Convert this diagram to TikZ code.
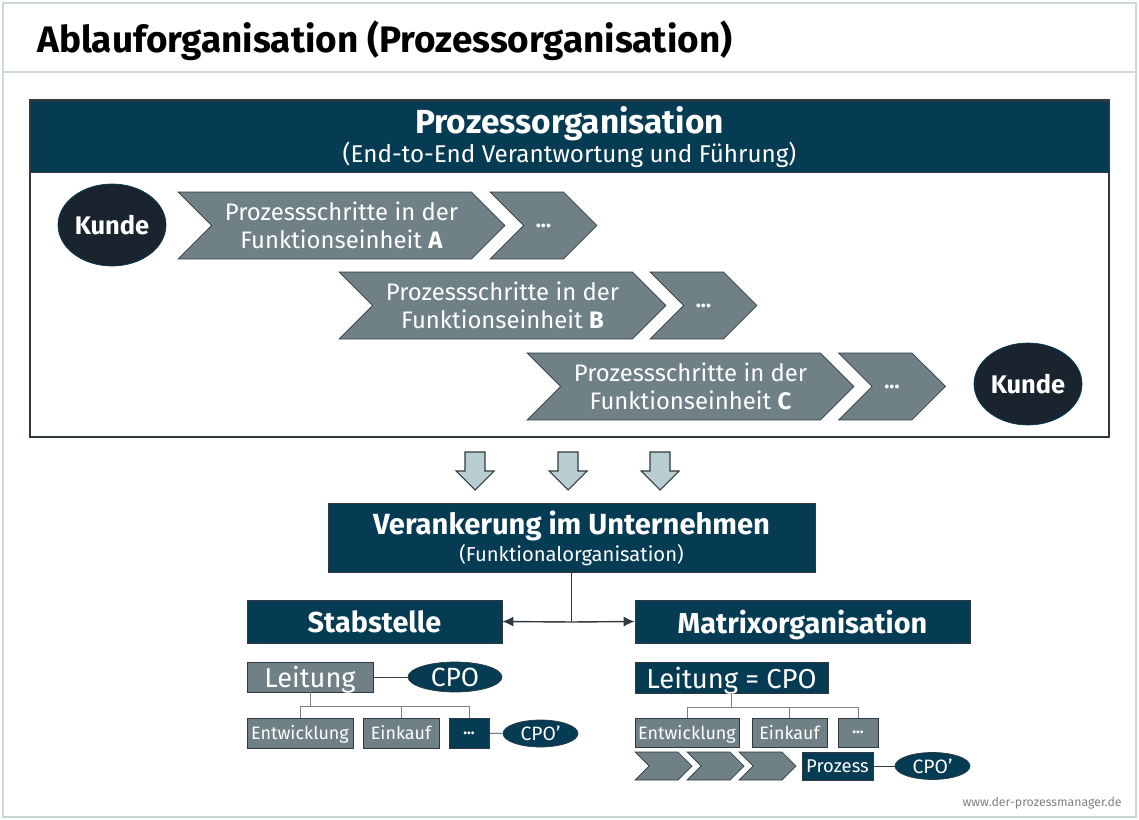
\documentclass[tikz,border=0pt]{standalone}
\usepackage{fontspec}
\setmainfont{Fira Sans}
\usepackage{xcolor}
\usetikzlibrary{positioning,shapes.geometric,shapes.symbols,arrows.meta}

\definecolor{nachtblau}{HTML}{053B53}
\definecolor{tinte}{HTML}{19242E}
\definecolor{stahlgrau}{HTML}{6F8087}
\definecolor{schiefer}{HTML}{2E3A40}
\definecolor{eisblau}{HTML}{B7CDD1}
\definecolor{rahmenfarbe}{HTML}{C9D9DB}

\begin{document}
\begin{tikzpicture}[
  x=0.02cm, y=-0.02cm,
  rahmen/.style  = {draw=rahmenfarbe, line width=1.2pt},
  kasten/.style  = {draw=schiefer, fill=nachtblau, text=white, inner sep=0pt, align=center},
  feld/.style    = {draw=schiefer, fill=stahlgrau, text=white, inner sep=0pt, align=center},
  zeile/.style   = {text depth=0pt},
  schritt/.style = {signal, signal from=west, signal to=east, signal pointer angle=90,
                    draw=schiefer, fill=stahlgrau, text=white, inner sep=0pt, align=center},
  kunde/.style   = {ellipse, draw=nachtblau, fill=tinte, text=white, inner sep=0pt,
                    minimum width=2.16cm, minimum height=1.64cm,
                    font=\fontsize{14.5}{17}\selectfont\bfseries},
  rolle/.style   = {ellipse, draw=schiefer, fill=nachtblau, text=white, inner sep=0pt, zeile},
  fleche/.style  = {-{Latex[length=2.2mm,width=2mm]}, thick, draw=schiefer},
  ast/.style     = {draw=gray, line width=0.5pt},
  blockpfeil/.style = {draw=schiefer, fill=eisblau, line width=0.6pt}
]
\useasboundingbox (0,0) rectangle (1139,820);
\draw[rahmen] (3,3) rectangle (1136,817);
\draw[rahmen] (3,72) -- (1136,72);
\node[anchor=base west, inner sep=0pt, font=\fontsize{21}{24}\selectfont\bfseries] (titel) at (37,53)
  {Ablauforganisation (Prozessorganisation)};

% Prozessorganisation
\draw[draw=schiefer, line width=0.8pt] (30,100) rectangle (1109,437);
\node[kasten, minimum width=21.58cm, minimum height=1.42cm] (kopf) at (569.5,137)
  {{\fontsize{19}{22}\selectfont\bfseries Prozessorganisation}\\[0pt]
   {\fontsize{13.8}{16}\selectfont (End-to-End Verantwortung und Führung)}};

\node[kunde] (kundeA) at (112,225) {Kunde};
\node[kunde] (kundeC) at (1028,384) {Kunde};

\tikzset{gross/.style={schritt, minimum width=6.54cm, minimum height=1.34cm,
                       font=\fontsize{13.6}{16}\selectfont},
         rest/.style={schritt, minimum width=2.14cm, minimum height=1.34cm,
                      font=\fontsize{12}{14}\selectfont\bfseries}}
\node[gross] (schrittA) at (341.5,225.5) {Prozessschritte in der\\Funktionseinheit \textbf{A}};
\node[rest]  (restA)    at (543.5,225.5) {...};
\node[gross] (schrittB) at (502.5,305.5) {Prozessschritte in der\\Funktionseinheit \textbf{B}};
\node[rest]  (restB)    at (703.5,305.5) {...};
\node[gross] (schrittC) at (690.5,386.5) {Prozessschritte in der\\Funktionseinheit \textbf{C}};
\node[rest]  (restC)    at (892,386.5)   {...};

% Pfeile nach unten
\foreach \x in {475,568,660}
  \draw[blockpfeil] (\x-10,452) -- (\x+10,452) -- (\x+10,471) -- (\x+19,471)
                    -- (\x,490) -- (\x-19,471) -- (\x-10,471) -- cycle;

% Verankerung
\node[kasten, minimum width=9.74cm, minimum height=1.38cm] (verank) at (571.5,538)
  {{\fontsize{16.6}{19}\selectfont\bfseries Verankerung im Unternehmen}\\[1pt]
   {\fontsize{11.5}{13}\selectfont (Funktionalorganisation)}};
\node[kasten, zeile, minimum width=5.1cm, minimum height=0.86cm,
      font=\fontsize{16.4}{18}\selectfont\bfseries] (stab) at (374.5,621.5) {Stabstelle};
\node[kasten, zeile, minimum width=6.7cm, minimum height=0.86cm,
      font=\fontsize{16.4}{18}\selectfont\bfseries] (matrix) at (802.5,621.5) {Matrixorganisation};
\coordinate (knoten) at (571.5,622);
\draw[schiefer, thick] (verank.south) -- (knoten);
\draw[fleche] (knoten) -- (stab.east);
\draw[fleche] (knoten) -- (matrix.west);

% Stabstelle
\node[feld, zeile, minimum width=2.52cm, minimum height=0.6cm,
      font=\fontsize{15.5}{18}\selectfont] (leitL) at (310,677) {Leitung};
\node[rolle, minimum width=1.88cm, minimum height=0.6cm,
      font=\fontsize{15}{18}\selectfont] (cpoL) at (455,677) {CPO};
\node[feld, zeile, minimum width=2.12cm, minimum height=0.6cm,
      font=\fontsize{10.2}{12}\selectfont] (entwL) at (300,733) {Entwicklung};
\node[feld, zeile, minimum width=1.52cm, minimum height=0.6cm,
      font=\fontsize{10.2}{12}\selectfont] (einkL) at (401,733) {Einkauf};
\node[kasten, zeile, minimum width=0.8cm, minimum height=0.6cm,
      font=\fontsize{9}{11}\selectfont\bfseries] (mehrL) at (469,733) {...};
\node[rolle, minimum width=1.5cm, minimum height=0.54cm,
      font=\fontsize{11}{13}\selectfont] (cpoL2) at (540.5,733.5) {CPO’};
\draw[schiefer] (leitL) -- (cpoL);
\draw[schiefer] (mehrL) -- (cpoL2);
\coordinate (astL) at (310,706);
\draw[ast] (leitL.south) -- (astL);
\foreach \k in {entwL,einkL,mehrL}
  \draw[ast] (astL) -| (\k.north);

% Matrixorganisation
\node[kasten, zeile, minimum width=3.86cm, minimum height=0.62cm,
      font=\fontsize{15.6}{18}\selectfont] (leitR) at (731.5,677.5) {Leitung = CPO};
\node[feld, zeile, minimum width=2.08cm, minimum height=0.58cm,
      font=\fontsize{10.2}{12}\selectfont] (entwR) at (687,732.5) {Entwicklung};
\node[feld, zeile, minimum width=1.5cm, minimum height=0.58cm,
      font=\fontsize{10.2}{12}\selectfont] (einkR) at (789.5,732.5) {Einkauf};
\node[feld, zeile, minimum width=0.8cm, minimum height=0.58cm,
      font=\fontsize{9}{11}\selectfont\bfseries] (mehrR) at (858,732.5) {...};
\coordinate (astR) at (731.5,707);
\draw[ast] (leitR.south) -- (astR);
\foreach \k in {entwR,einkR,mehrR}
  \draw[ast] (astR) -| (\k.north);
\foreach \x/\n in {663.5/1,715.5/2,767.5/3}
  \node[schritt, minimum width=1.14cm, minimum height=0.56cm] (klein\n) at (\x,766) {};
\node[kasten, zeile, minimum width=1.42cm, minimum height=0.56cm,
      font=\fontsize{10.5}{13}\selectfont] (prozR) at (837.5,766) {Prozess};
\node[rolle, minimum width=1.5cm, minimum height=0.54cm,
      font=\fontsize{11}{13}\selectfont] (cpoR) at (932.5,766) {CPO’};
\draw[schiefer] (prozR) -- (cpoR);

\node[anchor=base east, inner sep=0pt, text=gray, font=\fontsize{7}{9}\selectfont] (web) at (1122,806)
  {www.der-prozessmanager.de};
\end{tikzpicture}
\end{document}
